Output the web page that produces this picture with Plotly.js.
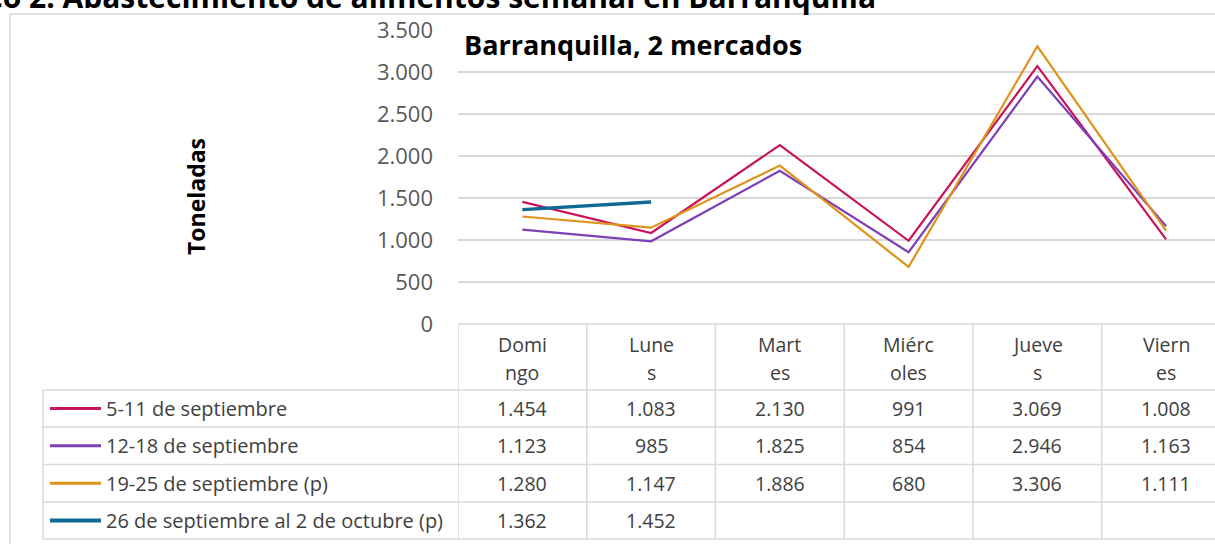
<!DOCTYPE html>
<html><head><meta charset="utf-8">
<script src="https://cdn.plot.ly/plotly-3.0.1.min.js"></script>
<style>html,body{margin:0;padding:0;background:#fff}#chart{width:1215px;height:544px}</style>
</head><body><div id="chart"></div>
<script>
// ---- data ----
const categories = ["Domingo", "Lunes", "Martes", "Miércoles", "Jueves", "Viernes"];
const headerTop = ["Domi", "Lune", "Mart", "Miérc", "Jueve", "Viern"];
const headerBottom = ["ngo", "s", "es", "oles", "s", "es"];
const seriesNames = ["5-11 de septiembre", "12-18 de septiembre", "19-25 de septiembre (p)", "26 de septiembre al 2 de octubre (p)"];
const sep05_11 = [1454, 1083, 2130, 991, 3069, 1008];
const sep12_18 = [1123, 985, 1825, 854, 2946, 1163];
const sep19_25 = [1280, 1147, 1886, 680, 3306, 1111];
const sep26_oct02 = [1362, 1452, null, null, null, null];
const yTicks = [0, 500, 1000, 1500, 2000, 2500, 3000, 3500];
const chartTitle = "Gráfico 2. Abastecimiento de alimentos semanal en Barranquilla";
const innerTitle = "Barranquilla, 2 mercados";
const yTitle = "Toneladas";

// ---- styles ----
const seriesValues = [sep05_11, sep12_18, sep19_25, sep26_oct02];
const colors = ["#C8145C", "#7E40B6", "#DF931A", "#0E6A92"];
const widths = [2.2, 2.2, 2.2, 3.4];
const FONT = "Open Sans, Noto Sans, sans-serif";
const GRID = "#d9d9d9";
const CELL_SIZE = 19.5;

const W = 1215, H = 544;
const L = 458, T = 30, B = 220;
const plotW = W - L, plotH = H - T - B;
const plotBottom = H - B; // px of y=0
const px2x = p => (p - L) / plotW;
const py2y = p => (plotBottom - p) / plotH;
const fmt = n => n == null ? "" : String(n).replace(/\B(?=(\d{3})+(?!\d))/g, ".");

const traces = seriesValues.map((vals, i) => ({
  type: "scatter", mode: "lines", x: categories, y: vals, name: seriesNames[i],
  line: {color: colors[i], width: widths[i]}, connectgaps: false, hoverinfo: "skip"
}));

const shapes = [];
const annotations = [];
const line = (x0, y0, x1, y1, xref) => shapes.push({type: "line", xref: xref || "paper", yref: "paper",
  x0, y0, x1, y1, line: {color: GRID, width: 1.5}, layer: "above"});

// outer frame
line(px2x(10), py2y(14), px2x(1300), py2y(14));
line(px2x(10), py2y(14), px2x(10), py2y(600));

// table geometry
const headerTopPx = 324, headerBotPx = 390;
const rowEdges = [390, 427, 464.5, 502, 539];
const legendLeft = 43;
line(px2x(L), py2y(headerTopPx), px2x(1300), py2y(headerTopPx));
rowEdges.forEach(r => line(px2x(legendLeft), py2y(r), px2x(1300), py2y(r)));
line(px2x(legendLeft), py2y(headerBotPx), px2x(legendLeft), py2y(rowEdges[rowEdges.length - 1]));
for (let i = 0; i <= categories.length; i++) {
  shapes.push({type: "line", xref: "x", yref: "paper", x0: i - 0.5, x1: i - 0.5,
    y0: py2y(headerTopPx), y1: py2y(rowEdges[rowEdges.length - 1]), line: {color: GRID, width: 1.5}, layer: "above"});
}

// headers
categories.forEach((c, i) => {
  annotations.push({xref: "x", yref: "paper", x: i, y: py2y(344), text: headerTop[i], showarrow: false,
    xanchor: "center", yanchor: "middle", font: {family: FONT, size: CELL_SIZE, color: "#404040"}});
  annotations.push({xref: "x", yref: "paper", x: i, y: py2y(372), text: headerBottom[i], showarrow: false,
    xanchor: "center", yanchor: "middle", font: {family: FONT, size: CELL_SIZE, color: "#404040"}});
});

// rows
seriesValues.forEach((vals, s) => {
  const yc = (rowEdges[s] + rowEdges[s + 1]) / 2;
  shapes.push({type: "line", xref: "paper", yref: "paper", x0: px2x(50), x1: px2x(101), y0: py2y(yc), y1: py2y(yc),
    line: {color: colors[s], width: widths[s] + 0.6}, layer: "above"});
  annotations.push({xref: "paper", yref: "paper", x: px2x(104), y: py2y(yc), text: seriesNames[s], showarrow: false,
    xanchor: "left", yanchor: "middle", font: {family: FONT, size: 20, color: "#404040"}});
  vals.forEach((v, i) => {
    if (v == null) return;
    annotations.push({xref: "x", yref: "paper", x: i, y: py2y(yc), text: fmt(v), showarrow: false,
      xanchor: "center", yanchor: "middle", font: {family: FONT, size: CELL_SIZE, color: "#404040"}});
  });
});

// titles
annotations.push({xref: "paper", yref: "paper", x: px2x(878), y: py2y(-4), text: "<b>" + chartTitle + "</b>", showarrow: false,
  xanchor: "right", yanchor: "middle", font: {family: FONT, size: 30, color: "#000"}});
annotations.push({xref: "paper", yref: "paper", x: px2x(462), y: py2y(44), text: "<b>" + innerTitle + "</b>", showarrow: false,
  xanchor: "left", yanchor: "middle", font: {family: FONT, size: 27, color: "#000"}});
annotations.push({xref: "paper", yref: "paper", x: px2x(196), y: py2y(197), text: "<b>" + yTitle + "</b>", showarrow: false,
  textangle: -90, xanchor: "center", yanchor: "middle", font: {family: FONT, size: 23, color: "#000"}});

const layout = {
  width: W, height: H,
  margin: {l: L, r: 0, t: T, b: B, pad: 0},
  paper_bgcolor: "#fff", plot_bgcolor: "#fff",
  showlegend: false,
  separators: ",.",
  xaxis: {type: "category", range: [-0.5, 5.38], showticklabels: false, showgrid: false, zeroline: false,
    showline: false, ticks: "", fixedrange: true},
  yaxis: {range: [0, 3500], tickvals: yTicks, tickformat: ",d", separatethousands: true,
    showgrid: true, gridcolor: GRID, gridwidth: 1.5, zeroline: false, showline: false, ticks: "",
    ticklabelstandoff: 24, tickfont: {family: FONT, size: 22, color: "#595959"}, fixedrange: true},
  shapes, annotations
};

Plotly.newPlot("chart", traces, layout, {displayModeBar: false, staticPlot: true});
</script>
</body></html>
